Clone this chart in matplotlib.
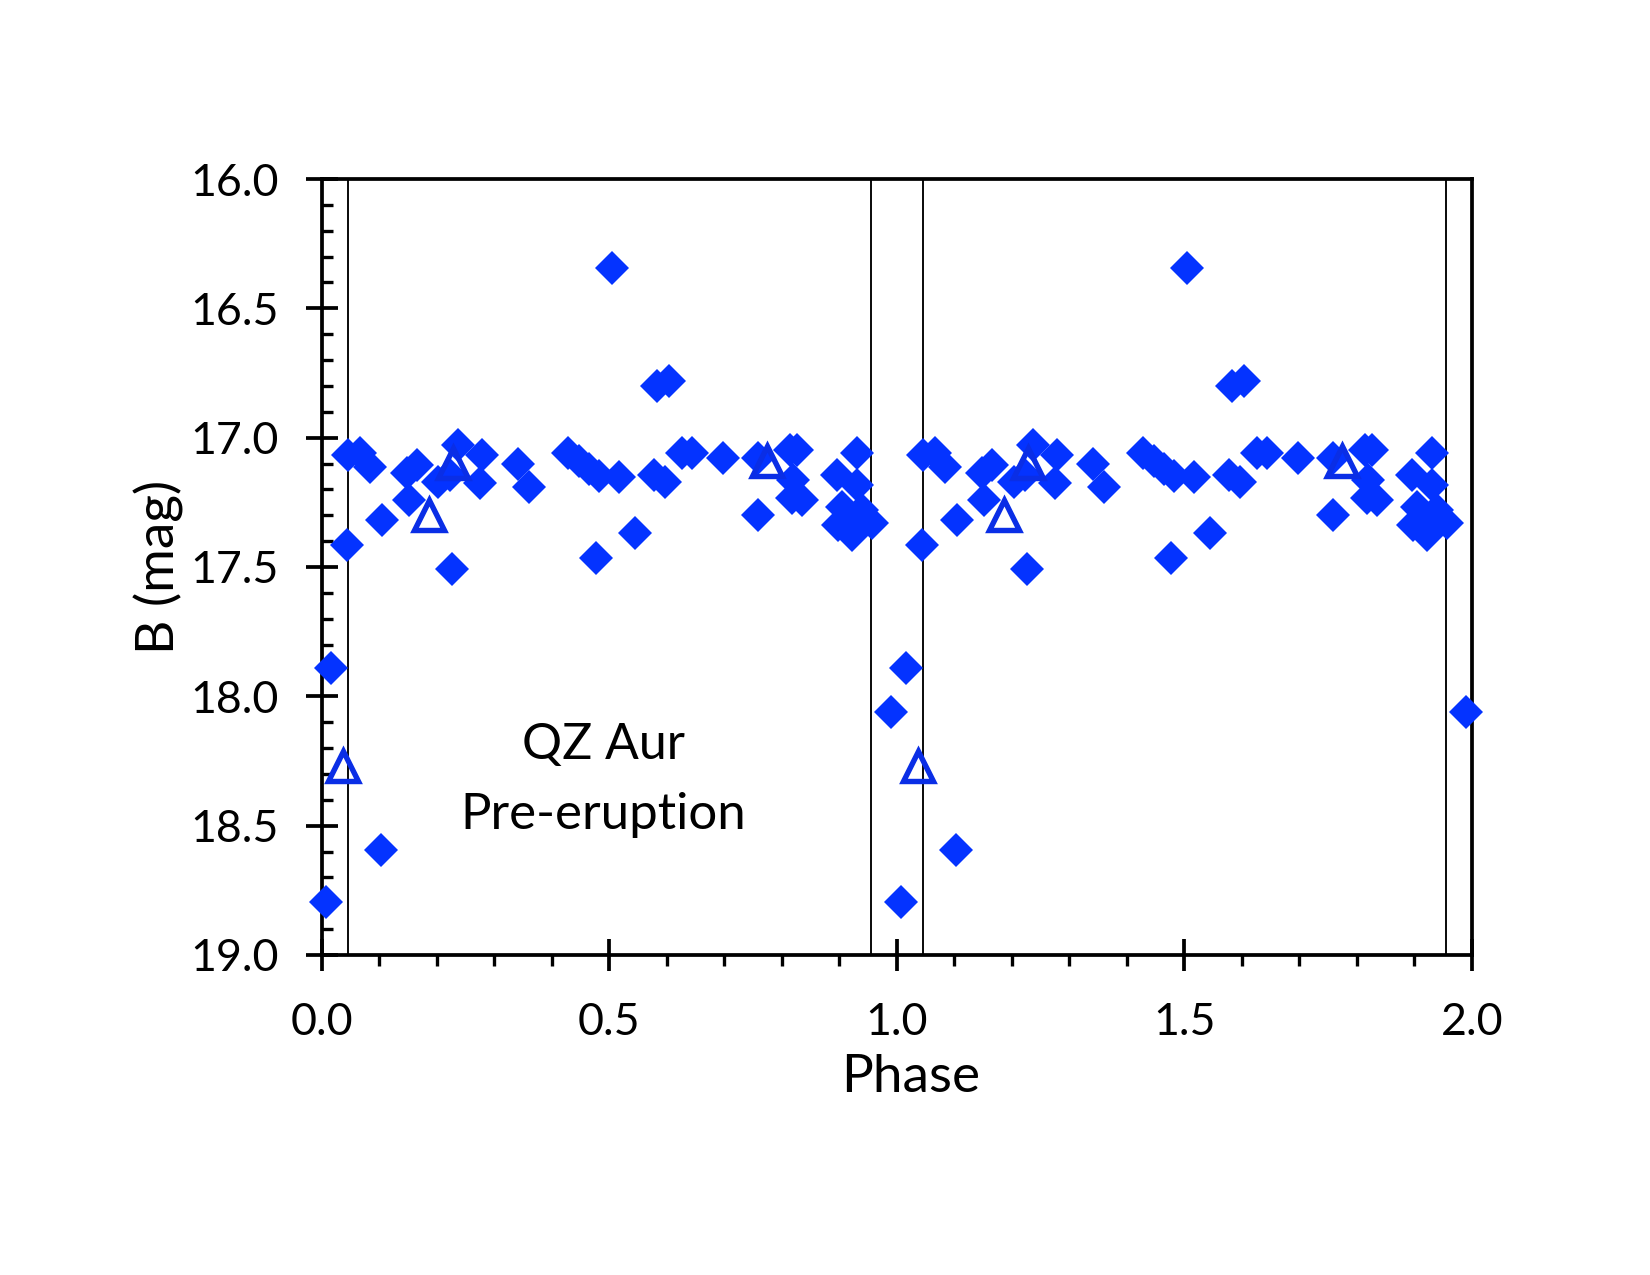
import matplotlib
matplotlib.use("Agg")
import matplotlib.pyplot as plt
import numpy as np
from matplotlib.ticker import MultipleLocator, FormatStrFormatter

plt.rcParams["font.family"] = ["Lato", "DejaVu Sans"]

# orbital phase (0-1) and B magnitude, pre-eruption photometry
diamond_phase = [0.0075, 0.0157, 0.0435, 0.046, 0.067, 0.084, 0.103, 0.104,
                 0.148, 0.151, 0.165, 0.203, 0.223, 0.2266, 0.2376, 0.275,
                 0.278, 0.342, 0.3605, 0.429, 0.447, 0.465, 0.4765, 0.482,
                 0.504, 0.5176, 0.545, 0.577, 0.5825, 0.597, 0.6046, 0.626,
                 0.6435, 0.698, 0.759, 0.759, 0.8145, 0.826, 0.820, 0.817,
                 0.835, 0.8957, 0.904, 0.898, 0.915, 0.922, 0.930, 0.930,
                 0.933, 0.939, 0.9565, 0.9896]
diamond_mag = [18.797, 17.889, 17.415, 17.067, 17.060, 17.112, 18.596, 17.318,
               17.138, 17.241, 17.106, 17.170, 17.144, 17.509, 17.028, 17.176,
               17.067, 17.100, 17.190, 17.060, 17.090, 17.120, 17.466, 17.150,
               16.343, 17.151, 17.370, 17.144, 16.800, 17.170, 16.780, 17.060,
               17.060, 17.080, 17.080, 17.299, 17.048, 17.048, 17.163, 17.234,
               17.240, 17.144, 17.267, 17.337, 17.357, 17.376, 17.060, 17.183,
               17.305, 17.280, 17.331, 18.059]

triangle_phase = [0.0365, 0.187, 0.229, 0.775]
triangle_mag = [18.268, 17.300, 17.097, 17.089]

eclipse_lines = [0.045, 0.955, 1.045, 1.955]

BLUE = "#0433FF"

fig = plt.figure(figsize=(11, 8.5), dpi=150)
ax = fig.add_axes([0.195, 0.251, 0.697, 0.6086])

dp = np.asarray(diamond_phase)
tp = np.asarray(triangle_phase)
# two cycles: plot each point at phase and phase + 1
ax.plot(np.concatenate([dp, dp + 1]), diamond_mag * 2, "D", color=BLUE,
        ms=11.8, mew=0, zorder=3, clip_on=False)
ax.plot(np.concatenate([tp, tp + 1]), triangle_mag * 2, "^", mfc="none",
        mec="#0a2ee6", ms=14, mew=2.6, zorder=4)

for x in eclipse_lines:
    ax.axvline(x, color="black", lw=0.9, zorder=2)

ax.set_xlim(0, 2)
ax.set_ylim(19, 16)
ax.xaxis.set_major_locator(MultipleLocator(0.5))
ax.xaxis.set_minor_locator(MultipleLocator(0.1))
ax.yaxis.set_major_locator(MultipleLocator(0.5))
ax.yaxis.set_minor_locator(MultipleLocator(0.1))
ax.xaxis.set_major_formatter(FormatStrFormatter("%.1f"))
ax.yaxis.set_major_formatter(FormatStrFormatter("%.1f"))

ax.tick_params(which="major", direction="inout", length=15, width=1.8,
               labelsize=21.5)
ax.tick_params(axis="x", which="major", pad=15)
ax.tick_params(axis="y", which="major", pad=13)
ax.tick_params(axis="x", which="minor", direction="out", length=5.5, width=1.6)
ax.tick_params(axis="y", which="minor", direction="in", length=5.5, width=1.6)
for s in ax.spines.values():
    s.set_linewidth(1.8)

ax.set_xlabel("Phase", fontsize=25.5)
ax.set_ylabel("B (mag)", fontsize=25.5)
ax.xaxis.set_label_coords(0.512, -0.127)
ax.yaxis.set_label_coords(-0.12, 0.5)

ax.text(0.49, 18.19, "QZ Aur", fontsize=24, ha="center", va="center")
ax.text(0.49, 18.46, "Pre-eruption", fontsize=24.5, ha="center", va="center")

fig.savefig("out.png", dpi=150, facecolor="white")
